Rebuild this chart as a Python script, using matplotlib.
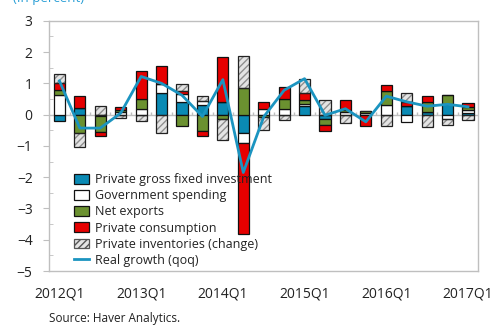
import matplotlib
matplotlib.use("Agg")
import matplotlib.pyplot as plt
import numpy as np
from matplotlib.patches import Patch
from matplotlib.lines import Line2D

plt.rcParams['font.family'] = ['Open Sans', 'DejaVu Sans']

quarters = ['2012Q1', '2012Q2', '2012Q3', '2012Q4', '2013Q1', '2013Q2', '2013Q3', '2013Q4',
            '2014Q1', '2014Q2', '2014Q3', '2014Q4', '2015Q1', '2015Q2', '2015Q3', '2015Q4',
            '2016Q1', '2016Q2', '2016Q3', '2016Q4', '2017Q1']
tick_labels = ['2012Q1', '2013Q1', '2014Q1', '2015Q1', '2016Q1', '2017Q1']

investment = [-0.20, 0.21, 0.00, 0.00, 0.00, 0.70, 0.40, 0.32, 0.41, -0.59, 0.00, 0.00, 0.27, -0.15,
              0.00, 0.00, 0.00, 0.29, 0.08, 0.35, 0.06]
government = [0.62, 0.00, -0.05, 0.08, 0.19, 0.29, 0.27, 0.12, 0.00, -0.32, 0.19, 0.19, 0.06, 0.00,
              0.10, 0.05, 0.32, -0.25, 0.00, -0.13, 0.08]
net_exports = [0.18, -0.58, -0.50, 0.07, 0.32, 0.00, -0.36, -0.53, -0.13, 0.86, -0.08, 0.32, 0.13, -0.17,
               0.04, 0.07, 0.44, 0.00, 0.32, 0.29, 0.11]
consumption = [0.21, 0.39, -0.14, 0.10, 0.90, 0.58, 0.07, -0.14, 1.44, -2.91, 0.20, 0.37, 0.23, -0.21,
               0.32, -0.36, 0.18, 0.12, 0.20, 0.00, 0.13]
inventories = [0.28, -0.44, 0.27, -0.10, -0.20, -0.58, 0.25, 0.15, -0.69, 1.00, -0.42, -0.16, 0.44, 0.48,
               -0.27, 0.00, -0.36, 0.28, -0.40, -0.21, -0.16]
real_growth = [1.08, -0.43, -0.43, 0.05, 1.22, 1.00, 0.62, -0.06, 1.12, -1.85, -0.07, 0.78, 1.15, -0.02,
               0.19, -0.23, 0.59, 0.41, 0.27, 0.33, 0.25]

c_blue = '#0a8ab4'
c_white = '#ffffff'
c_green = '#6b9130'
c_red = '#e60000'
c_hatch_bg = '#e4e4e4'
c_line = '#1b94c0'
c_grey = '#bfbfbf'

fig = plt.figure(figsize=(4.92, 3.25), dpi=100)
ax = fig.add_axes([0.100, 0.166, 0.872, 0.770])

x = np.arange(len(quarters))
w = 0.55

ax.axhline(0, color=c_grey, lw=1, zorder=1)

series = [investment, government, net_exports, consumption, inventories]
colors = [c_blue, c_white, c_green, c_red, None]
pos_base = np.zeros(len(x))
neg_base = np.zeros(len(x))
for vals, col in zip(series, colors):
    v = np.array(vals)
    bottom = np.where(v >= 0, pos_base, neg_base)
    if col is None:
        ax.bar(x, v, w, bottom=bottom, color=c_hatch_bg, edgecolor='#8f8f8f', hatch='/////',
               linewidth=0, zorder=2)
        ax.bar(x, v, w, bottom=bottom, fill=False, edgecolor='#222222', linewidth=0.9, zorder=3)
    else:
        ax.bar(x, v, w, bottom=bottom, color=col, edgecolor='#111111', linewidth=0.9, zorder=3)
    pos_base = pos_base + np.where(v >= 0, v, 0)
    neg_base = neg_base + np.where(v < 0, v, 0)

ax.plot(x, real_growth, color=c_line, lw=2, zorder=4)

# small ticks on the zero line between quarters
ax.vlines(x[:-1] + 0.5, 0, 0.1, color=c_grey, lw=1, zorder=1)

ax.set_xlim(-0.5, len(x) - 0.5)
ax.set_ylim(-5, 3)
ax.set_yticks(np.arange(-5, 4, 1))
ax.set_yticks(np.arange(-4.5, 3, 1), minor=True)
ax.set_xticks(x[::4])
ax.set_xticklabels(tick_labels)
ax.tick_params(axis='x', length=0, pad=11, labelsize=10, colors='#222222')
ax.tick_params(axis='y', which='major', length=4, direction='out', color=c_grey, pad=8,
               labelsize=10, labelcolor='#222222')
ax.tick_params(axis='y', which='minor', length=3, direction='in', color=c_grey)
for s in ax.spines.values():
    s.set_color(c_grey)
    s.set_linewidth(1)

handles = [
    Patch(facecolor=c_blue, edgecolor='#111111', linewidth=0.9),
    Patch(facecolor=c_white, edgecolor='#111111', linewidth=0.9),
    Patch(facecolor=c_green, edgecolor='#111111', linewidth=0.9),
    Patch(facecolor=c_red, edgecolor='#111111', linewidth=0.9),
    Patch(facecolor=c_hatch_bg, edgecolor='#555555', hatch='/////', linewidth=0.9),
    Line2D([0], [0], color=c_line, lw=2),
]
labels = ['Private gross fixed investment', 'Government spending', 'Net exports',
          'Private consumption', 'Private inventories (change)', 'Real growth (qoq)']
leg = ax.legend(handles, labels, loc='upper left', bbox_to_anchor=(0.151, 0.467),
                bbox_transform=fig.transFigure, frameon=False, fontsize=9,
                handlelength=1.15, handleheight=0.8, handletextpad=0.5, labelspacing=0.25,
                borderaxespad=0, borderpad=0)
for t in leg.get_texts():
    t.set_color('#222222')

fig.text(0.026, 0.994, '(In percent)', color='#2a9fd6', fontsize=9.5, va='baseline', ha='left')
fig.text(0.100, 0.021, 'Source: Haver Analytics.', color='#222222', fontsize=8.5, va='center', ha='left')

fig.savefig('out.png', dpi=100)
